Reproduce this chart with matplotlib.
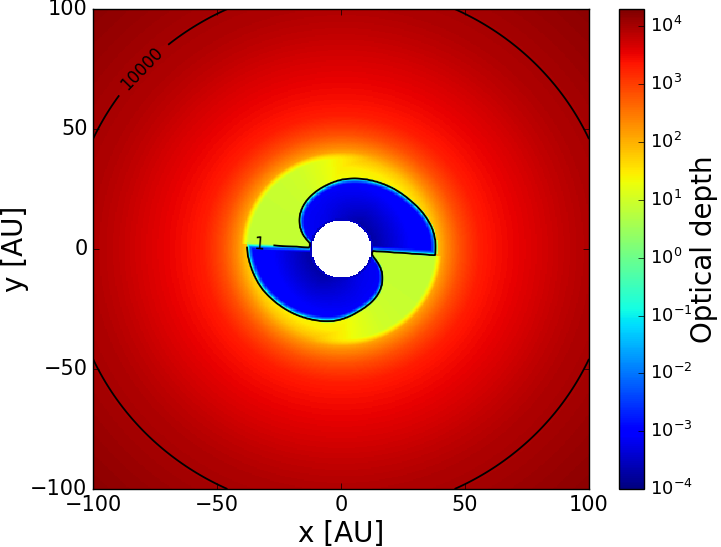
import numpy as np
import matplotlib
matplotlib.use("Agg")
import matplotlib.pyplot as plt
from matplotlib.colors import LogNorm

plt.style.use("classic")

# disc profile away from the shadow (log10 of optical depth)
disc_radius = [12, 30, 34, 38, 42, 45, 48, 52, 56, 62, 70, 80, 90, 100, 110, 125, 145]
disc_log_tau = [1.3, 1.35, 1.44, 1.8, 2.3, 2.6, 2.86, 3.1, 3.3, 3.42, 3.53, 3.67, 3.82, 3.94, 4.0, 4.1, 4.22]

# cavity edge (the tau=1 contour), polar angle in deg and radius in AU
upper_angle = [-4, 1.5, 12, 24, 36, 50, 63, 75, 89.4, 99, 110.5, 122, 132.9, 142.9, 152.4, 162.9, 166.7, 175]
upper_radius = [38, 38.3, 38, 36.4, 34.5, 32.9, 31.5, 30.4, 29, 27.7, 26.3, 24.9, 23.2, 21.2, 18.6, 15.2, 13.25, 11.8]
lower_angle = [176.8, 180, 193.6, 207, 221, 237, 254, 267, 274.6, 285, 295.3, 305.9, 316.2, 324, 331.9, 338.2, 346.2, 351.5]
lower_radius = [38, 38, 37, 36, 34.4, 32.8, 31.2, 29.9, 28.7, 27, 25.8, 24.5, 22.7, 20.8, 18.6, 16.2, 13.4, 12.2]

# lit wall behind each straight edge
wall_radius = 39
shadow_angle = [0, 40, 60, 74, 87, 100, 120]
shadow_log_tau = [0.88, 0.9, 1.0, 1.2, 1.45, 1.75, 2.5]

# inside the cavity, the first entry sits just outside the contour
edge_distance = [-0.5, 0, 0.5, 1.1, 2.2, 200]
edge_log_tau = [0.9, 0, -1, -2, -3, -3]
dark_radius = [12, 20, 28, 38]
dark_log_tau = [-0.75, -0.4, -0.05, 0]
dark_lobe_angle = [0, 60, 120, 180]
dark_weight = [1, 1, 0.35, 0.1]

star_radius = 12
contour_levels = [1, 10000]
label_spots = [(-33, 2), (-78, 73)]
ticks = [-100, -50, 0, 50, 100]
bar_ticks = [1e-4, 1e-3, 1e-2, 1e-1, 1e0, 1e1, 1e2, 1e3, 1e4]


def lobe_distance(r, theta, start, angles, radii):
    # distance inside a lobe, negative outside it
    rel = (theta - start) % 360
    rel = np.where(rel > 300, rel - 360, rel)
    # rounds off the corners of the hand read edge
    fine = np.arange(angles[0] - 12, angles[-1] + 13, 1.0)
    smooth = np.convolve(np.interp(fine, angles, radii), np.ones(9) / 9, mode="same")
    smooth[:6] = radii[0]
    smooth[-6:] = radii[-1]
    edge = np.interp(rel + start, fine, smooth, right=0)
    return np.minimum(edge - r, r * np.radians(rel)), rel


def make_field():
    x = np.arange(-100, 100.01, 0.5)
    X, Y = np.meshgrid(x, x)
    r = np.hypot(X, Y)
    theta = np.degrees(np.arctan2(Y, X)) % 360

    field = np.interp(r, disc_radius, disc_log_tau)

    # two shadowed wedges, each runs clockwise from a straight cavity edge
    for start in (upper_angle[0], lower_angle[0]):
        phi = (start - theta) % 360
        level = np.interp(phi, shadow_angle, shadow_log_tau)
        blend = np.clip((wall_radius + 1.5 - r) / 3, 0, 1)
        wall = np.minimum(field, level)
        use = phi < 120
        field[use] = (blend * wall + (1 - blend) * field)[use]

    theta_up = np.where(theta > 300, theta - 360, theta)
    d_up, rel_up = lobe_distance(r, theta_up, upper_angle[0], upper_angle, upper_radius)
    d_low, rel_low = lobe_distance(r, theta, lower_angle[0], lower_angle, lower_radius)

    for d, rel in ((d_up, rel_up), (d_low, rel_low)):
        inside = (d > -0.5) & (rel > -8) & (rel < 200)
        cav = np.interp(d, edge_distance, edge_log_tau)
        dark = np.interp(r, dark_radius, dark_log_tau) * np.interp(rel, dark_lobe_angle, dark_weight)
        depth = np.where(d >= 2.2, dark, dark * np.clip(d, 0, 2.2) / 2.2)
        value = cav + depth
        # keep the surroundings where they already read lower than the ramp
        field[inside] = np.minimum(field, value)[inside]

    # closes the contour just off the star, in the wedge between the lobes
    field[r < star_radius + 0.8] = -3.5

    tau = np.ma.masked_where(r < star_radius, 10.0 ** field)
    return x, X, Y, tau


def main():
    x, X, Y, tau = make_field()
    norm = LogNorm(vmin=1e-4, vmax=2e4)

    fig = plt.figure(figsize=(7.21, 5.47), dpi=100, facecolor="white")
    ax = fig.add_axes([93 / 721, 1 - 489 / 547, 496 / 721, 480 / 547])
    cax = fig.add_axes([619 / 721, 1 - 489 / 547, 25 / 721, 480 / 547])

    im = ax.imshow(tau, origin="lower", extent=[-100, 100, -100, 100], cmap="jet",
                   norm=norm, interpolation="nearest", aspect="auto")
    cs = ax.contour(X, Y, tau, levels=contour_levels, colors="k", linewidths=1.3)
    ax.clabel(cs, fmt="%d", fontsize=12, manual=label_spots, inline_spacing=9)

    ax.set_xlim(-100, 100)
    ax.set_ylim(-100, 100)
    ax.set_xticks(ticks)
    ax.set_yticks(ticks)
    ax.tick_params(labelsize=15)
    ax.set_xlabel("x [AU]", fontsize=20, labelpad=4)
    ax.set_ylabel("y [AU]", fontsize=20, labelpad=1)

    cb = fig.colorbar(im, cax=cax, ticks=bar_ticks)
    cb.ax.minorticks_off()
    cb.ax.tick_params(labelsize=13)
    cb.set_label("Optical depth", fontsize=20, labelpad=-2)

    fig.savefig("out.png", dpi=100)


if __name__ == "__main__":
    main()
